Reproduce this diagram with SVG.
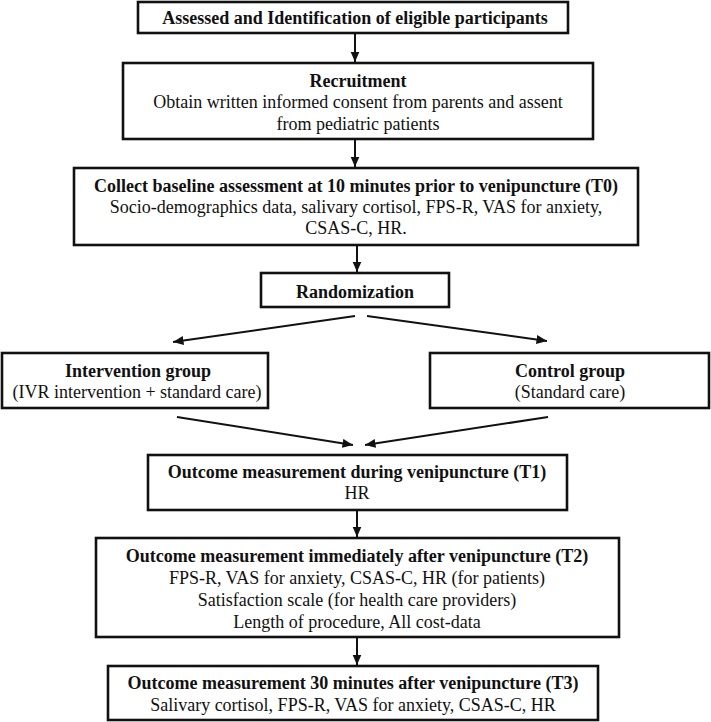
<svg xmlns="http://www.w3.org/2000/svg" width="711" height="722" viewBox="0 0 711 722">
<defs>
<style>
.box{fill:#fff;stroke:#111;stroke-width:2.6}
.t{font-family:"Liberation Serif","Times New Roman",serif;font-size:18px;fill:#111;text-anchor:middle}
.b{font-weight:bold}
.c{stroke:#111;stroke-width:2;fill:none;marker-end:url(#ah)}
</style>
<marker id="ah" markerUnits="userSpaceOnUse" markerWidth="11" markerHeight="10" refX="10.5" refY="4.5" orient="auto">
<path d="M0,0 L10.5,4.5 L0,9 z" fill="#111"/>
</marker>
</defs>
<rect width="711" height="722" fill="#fff"/>
<g id="connectors">
<line class="c" x1="355" y1="34" x2="355" y2="62"/>
<line class="c" x1="355" y1="140" x2="355" y2="167"/>
<line class="c" x1="357" y1="246" x2="357" y2="272"/>
<line class="c" x1="355" y1="316" x2="173" y2="342"/>
<line class="c" x1="367" y1="316" x2="547" y2="341"/>
<line class="c" x1="177" y1="417" x2="353" y2="445"/>
<line class="c" x1="548" y1="417" x2="365" y2="445"/>
<line class="c" x1="357" y1="511" x2="357" y2="537"/>
<line class="c" x1="357" y1="638" x2="357" y2="665"/>
</g>
<g id="n1">
<rect class="box" x="138" y="2" width="430" height="31"/>
<text class="t b" x="355" y="24">Assessed and Identification of eligible participants</text>
</g>
<g id="n2">
<rect class="box" x="123" y="63" width="470" height="76"/>
<text class="t b" x="358" y="87">Recruitment</text>
<text class="t" x="358" y="108">Obtain written informed consent from parents and assent</text>
<text class="t" x="358" y="130">from pediatric patients</text>
</g>
<g id="n3">
<rect class="box" x="74" y="168" width="564" height="77"/>
<text class="t b" x="356" y="192">Collect baseline assessment at 10 minutes prior to venipuncture (T0)</text>
<text class="t" x="356" y="213">Socio-demographics data, salivary cortisol, FPS-R, VAS for anxiety,</text>
<text class="t" x="356" y="234">CSAS-C, HR.</text>
</g>
<g id="n4">
<rect class="box" x="261" y="273" width="188" height="34"/>
<text class="t b" x="355" y="298">Randomization</text>
</g>
<g id="n5">
<rect class="box" x="2" y="353" width="266" height="55"/>
<text class="t b" x="138" y="377">Intervention group</text>
<text class="t" x="137" y="398">(IVR intervention + standard care)</text>
</g>
<g id="n6">
<rect class="box" x="430" y="353" width="279" height="55"/>
<text class="t b" x="570" y="377">Control group</text>
<text class="t" x="570" y="398">(Standard care)</text>
</g>
<g id="n7">
<rect class="box" x="148" y="455" width="419" height="55"/>
<text class="t b" x="357" y="478">Outcome measurement during venipuncture (T1)</text>
<text class="t" x="357" y="499">HR</text>
</g>
<g id="n8">
<rect class="box" x="96" y="538" width="523" height="99"/>
<text class="t b" x="357" y="562">Outcome measurement immediately after venipuncture (T2)</text>
<text class="t" x="357" y="584">FPS-R, VAS for anxiety, CSAS-C, HR (for patients)</text>
<text class="t" x="357" y="606">Satisfaction scale (for health care providers)</text>
<text class="t" x="357" y="628">Length of procedure, All cost-data</text>
</g>
<g id="n9">
<rect class="box" x="108" y="666" width="490" height="54"/>
<text class="t b" x="353" y="689">Outcome measurement 30 minutes after venipuncture (T3)</text>
<text class="t" x="353" y="711">Salivary cortisol, FPS-R, VAS for anxiety, CSAS-C, HR</text>
</g>
</svg>
